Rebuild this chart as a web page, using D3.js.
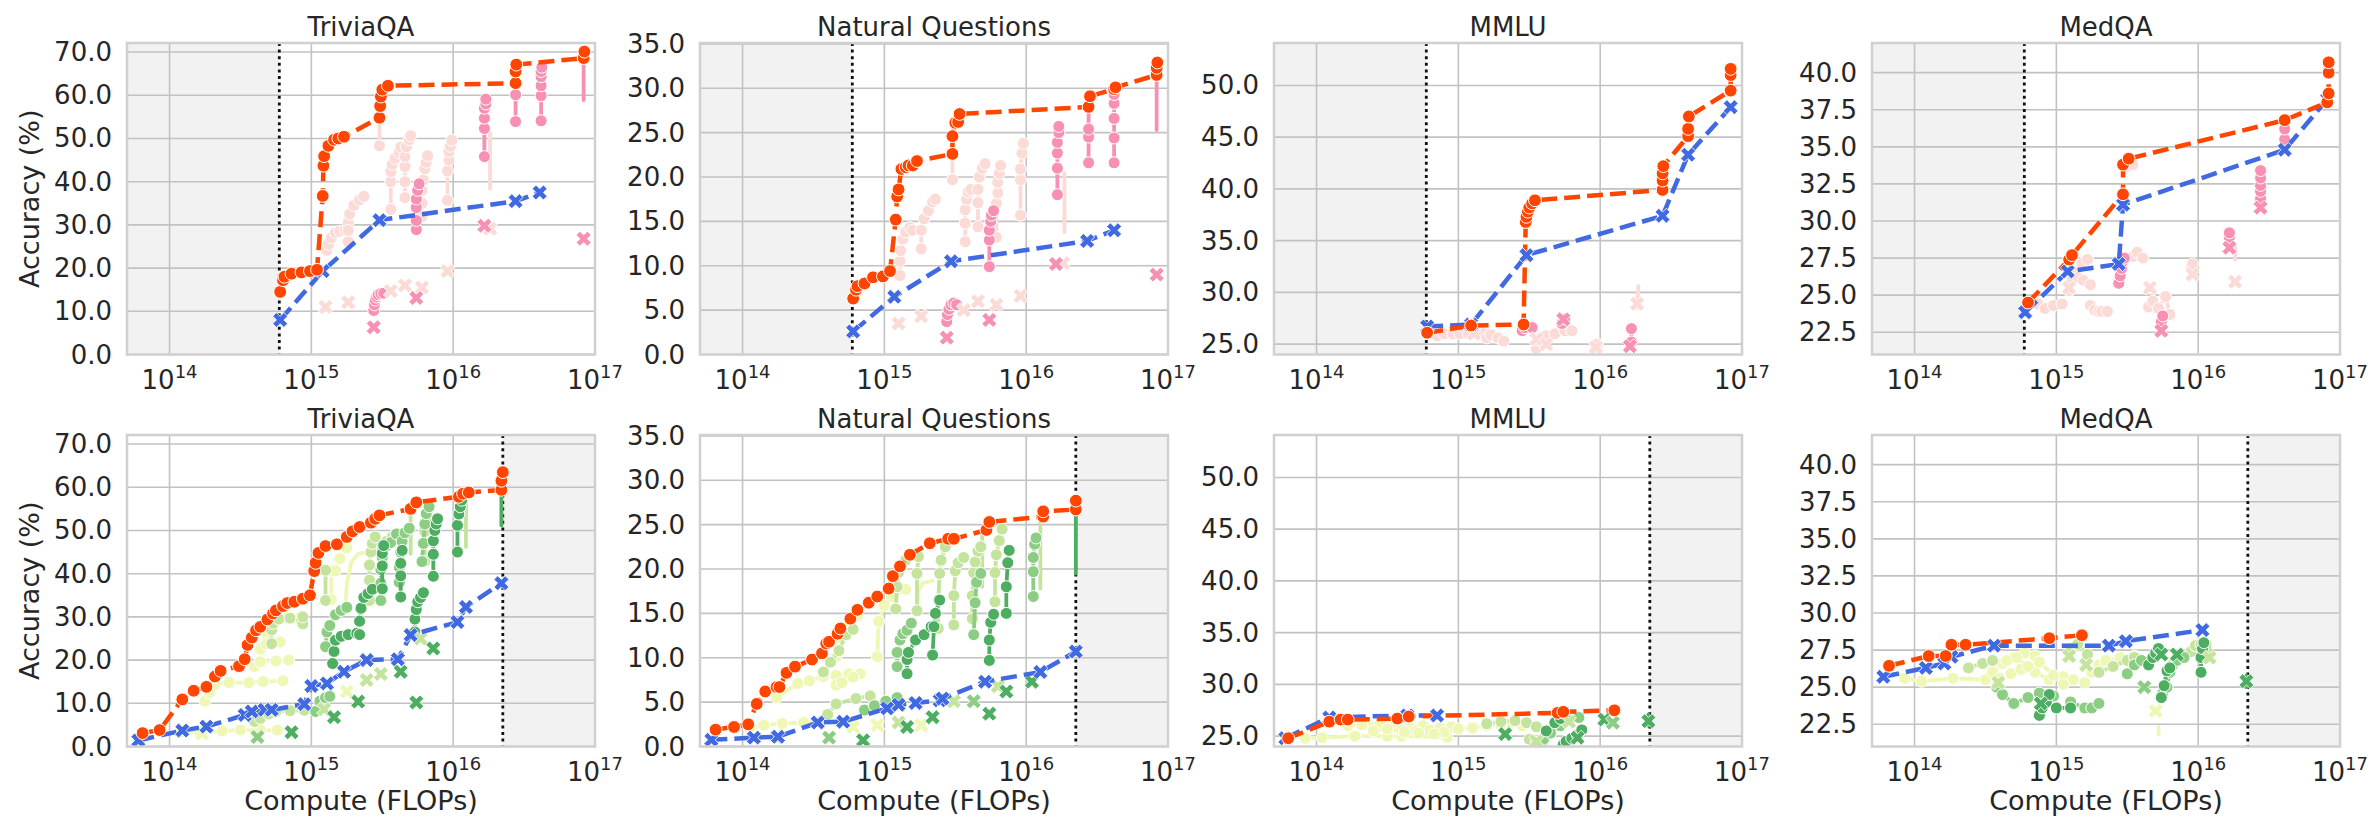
<!DOCTYPE html>
<html>
<head>
<meta charset="utf-8">
<script src="https://cdn.jsdelivr.net/npm/d3@7"></script>
<style>
  body { margin: 0; background: #fff; }
  svg { display: block; }
  text { font-family: "DejaVu Sans", sans-serif; fill: #262626; }
</style>
</head>
<body>
<svg id="chart" width="2376" height="818"></svg>
<script>
// ---------------------------------------------------------------------------
// Data. Compute is stored as log10(FLOPs); accuracy in percent.
// Family groups: [familyIndex, [[logFlops, acc], ...]]
// Crosses: [familyIndex, logFlops, acc]
// ---------------------------------------------------------------------------

const benchmarks = ["TriviaQA", "Natural Questions", "MMLU", "MedQA"];
const xTickExps = [14, 15, 16, 17];
const cutoffTop = 14.774;     // left shaded band ends here (top row)
const cutoffBottom = 16.35;   // right shaded band starts here (bottom row)

const triviaYDomain = [0, 72.1];
const nqYDomain = [0, 35.1];
const mmluYDomain = [24, 54.1];
const medqaYDomain = [21, 42];
const triviaYTicks = [0, 10, 20, 30, 40, 50, 60, 70];
const nqYTicks = [0, 5, 10, 15, 20, 25, 30, 35];
const mmluYTicks = [25, 30, 35, 40, 45, 50];
const medqaYTicks = [22.5, 25, 27.5, 30, 32.5, 35, 37.5, 40];

// ----- TriviaQA, top row -----
const triviaTopFrontier = [[14.78,14.5],[14.80,17.2],[14.81,18.0],[14.86,18.7],[14.93,19.0],[14.99,19.3],[15.04,19.6],[15.08,36.7],[15.085,43.7],[15.09,45.9],[15.12,48.3],[15.16,49.7],[15.19,50.0],[15.23,50.4],[15.48,54.8],[15.485,57.5],[15.49,59.7],[15.50,61.3],[15.54,62.2],[16.44,62.8],[16.44,65.5],[16.445,67.1],[16.92,68.6],[16.925,70.1]];
const triviaTopBaseline = [[14.78,8.0],[15.08,19.3],[15.48,31.1],[16.44,35.5],[16.61,37.5]];
const triviaTopFamilies = [
  [0, [[15.11,24.1],[15.12,25.5],[15.14,27.0],[15.17,28.2],[15.20,28.5],[15.24,28.7],[15.26,30.5],[15.27,32.5],[15.30,34.5],[15.34,35.8],[15.37,36.6]]],
  [0, [[15.26,26.1],[15.26,28.7]]],
  [0, [[15.48,48.3],[15.48,54.8]]],
  [0, [[15.56,33.6],[15.56,40.0],[15.56,42.3],[15.57,44.0],[15.59,45.4],[15.62,46.7],[15.63,48.0]]],
  [0, [[15.66,36.3],[15.66,40.0],[15.66,43.5],[15.66,45.8],[15.67,48.1],[15.69,49.7],[15.70,50.6]]],
  [0, [[15.78,31.9],[15.78,35.0],[15.78,38.0],[15.79,40.4],[15.80,43.0],[15.81,44.5],[15.82,46.0]]],
  [0, [[15.96,35.7],[15.96,42.5],[15.97,45.0],[15.97,47.0],[15.98,48.2],[15.99,49.6]]],
  [1, [[15.44,10.2],[15.445,11.5],[15.45,12.6],[15.46,13.3],[15.47,13.8],[15.49,14.1],[15.51,14.2]]],
  [1, [[15.74,28.9],[15.74,31.0],[15.74,34.0],[15.74,36.0],[15.75,38.0],[15.76,39.5]]],
  [1, [[16.22,45.8],[16.22,52.3],[16.22,54.7],[16.22,57.0],[16.23,58.0],[16.23,59.1]]],
  [1, [[16.44,53.9],[16.44,60.1],[16.44,62.8]]],
  [1, [[16.62,54.1],[16.62,59.9],[16.62,62.2],[16.62,64.3],[16.62,65.5],[16.625,66.5]]]
];
const triviaTopSpans = [
  [0, [[16.26,38.4],[16.26,51.2]]],
  [1, [[16.92,58.9],[16.92,68.6]]]
];
const triviaTopCrosses = [[0,15.10,11.0],[0,15.26,12.1],[0,15.56,14.7],[0,15.66,16.0],[0,15.78,15.5],[0,15.96,19.3],[0,16.26,29.1],[1,15.44,6.3],[1,15.74,13.1],[1,16.22,29.8],[1,16.92,26.8]];

// ----- Natural Questions, top row -----
const nqTopFrontier = [[14.78,6.3],[14.80,7.3],[14.81,7.7],[14.86,8.0],[14.92,8.7],[14.99,8.8],[15.04,9.4],[15.08,15.2],[15.09,17.8],[15.10,18.6],[15.12,20.9],[15.15,21.1],[15.17,21.3],[15.20,21.3],[15.23,21.8],[15.48,22.6],[15.48,24.6],[15.50,26.1],[15.52,26.2],[15.53,27.1],[16.44,27.9],[16.45,29.1],[16.62,29.9],[16.63,30.1],[16.92,31.5],[16.92,32.3],[16.925,32.9]];
const nqTopBaseline = [[14.78,2.6],[15.07,6.5],[15.47,10.5],[16.43,12.8],[16.62,14.0]];
const nqTopFamilies = [
  [0, [[15.11,8.9],[15.11,10.5],[15.115,11.7],[15.13,13.0],[15.15,13.8],[15.18,14.3],[15.20,14.0]]],
  [0, [[15.26,11.9],[15.26,14.0],[15.28,15.3],[15.31,16.2],[15.34,17.2],[15.36,17.5]]],
  [0, [[15.48,19.7],[15.48,22.6]]],
  [0, [[15.57,12.7],[15.57,14.8],[15.57,16.3],[15.58,17.5],[15.59,18.3],[15.61,18.6]]],
  [0, [[15.66,14.4],[15.66,17.1],[15.66,18.6],[15.67,20.0],[15.69,21.0],[15.71,21.5]]],
  [0, [[15.79,13.2],[15.79,17.0],[15.80,18.2],[15.80,19.4],[15.81,20.4],[15.82,21.3]]],
  [0, [[15.96,15.7],[15.96,19.7],[15.96,20.9],[15.97,22.7],[15.98,23.8]]],
  [1, [[15.44,3.7],[15.445,4.5],[15.455,5.1],[15.47,5.6],[15.49,5.8],[15.51,5.6]]],
  [1, [[15.74,9.9],[15.74,12.9],[15.74,14.0],[15.75,15.0],[15.755,15.7],[15.77,16.2]]],
  [1, [[16.22,18.0],[16.22,21.0],[16.22,22.7],[16.22,23.9],[16.23,25.0],[16.23,25.7]]],
  [1, [[16.44,21.6],[16.44,24.5],[16.44,25.4],[16.44,27.9]]],
  [1, [[16.62,21.6],[16.62,24.4],[16.62,26.6],[16.62,28.3],[16.62,29.3]]]
];
const nqTopSpans = [
  [0, [[16.27,13.8],[16.27,20.4]]],
  [1, [[16.92,25.3],[16.92,31.5]]]
];
const nqTopCrosses = [[0,15.10,3.5],[0,15.26,4.3],[0,15.56,5.0],[0,15.66,6.0],[0,15.79,5.6],[0,15.96,6.6],[0,16.26,10.3],[1,15.44,1.9],[1,15.74,3.9],[1,16.21,10.2],[1,16.92,9.0]];

// ----- MMLU, top row -----
const mmluTopFrontier = [[14.78,26.1],[15.09,26.8],[15.46,26.9],[15.475,36.8],[15.48,37.3],[15.49,37.8],[15.50,38.2],[15.52,38.6],[15.54,38.9],[16.44,39.9],[16.44,40.8],[16.44,41.5],[16.445,42.2],[16.62,45.1],[16.62,45.8],[16.625,47.0],[16.92,49.5],[16.92,51.0],[16.92,51.6]];
const mmluTopBaseline = [[14.78,26.7],[15.09,26.9],[15.48,33.6],[16.44,37.4],[16.62,43.3],[16.92,47.9]];
const mmluTopFamilies = [
  [0, [[14.85,25.8],[14.90,26.0],[14.96,26.0],[15.01,26.0],[15.07,26.0],[15.12,26.1],[15.17,26.0],[15.20,25.6],[15.23,25.9],[15.28,25.6],[15.32,25.3]]],
  [0, [[15.55,24.6],[15.56,25.4],[15.62,25.8],[15.68,26.0],[15.75,26.3],[15.80,26.3]]],
  [0, [[15.97,24.7],[15.98,25.0]]],
  [1, [[15.45,26.3],[15.47,26.6],[15.52,26.6]]],
  [1, [[15.73,27.0],[15.75,27.4]]],
  [1, [[16.22,25.2],[16.22,26.5]]]
];
const mmluTopSpans = [
  [0, [[16.26,28.5],[16.27,30.6]]]
];
const mmluTopCrosses = [[0,15.11,26.0],[0,15.55,25.5],[0,15.62,25.0],[0,15.97,24.7],[0,16.26,28.9],[1,15.74,27.4],[1,16.21,24.8]];

// ----- MedQA, top row -----
const medqaTopFrontier = [[14.80,24.5],[15.09,27.4],[15.11,27.7],[15.47,31.8],[15.47,33.8],[15.51,34.2],[16.61,36.8],[16.91,38.0],[16.92,38.6],[16.92,40.0],[16.92,40.7]];
const medqaTopBaseline = [[14.78,23.85],[15.08,26.6],[15.44,27.1],[15.47,31.1],[16.61,34.8],[16.91,38.2]];
const medqaTopFamilies = [
  [0, [[15.09,25.3],[15.11,26.0],[15.14,26.6],[15.18,27.1],[15.22,27.4]]],
  [0, [[15.15,26.2],[15.19,26.0],[15.24,25.7]]],
  [0, [[14.87,24.4],[14.92,24.1],[14.98,24.3],[15.04,24.4]]],
  [0, [[15.24,24.3],[15.27,24.0],[15.30,23.9],[15.32,23.9],[15.36,23.9]]],
  [0, [[15.50,33.7],[15.54,33.8]]],
  [0, [[15.54,27.6],[15.57,27.9],[15.61,27.5]]],
  [0, [[15.65,24.2],[15.68,24.6],[15.72,24.1],[15.77,24.9],[15.80,23.7]]],
  [0, [[15.95,26.9],[15.96,27.1]]],
  [1, [[15.44,25.8],[15.45,26.3],[15.46,26.8],[15.47,27.3],[15.48,27.5]]],
  [1, [[15.74,23.2],[15.75,23.6]]],
  [1, [[16.22,28.9],[16.22,29.2]]],
  [1, [[16.44,31.5],[16.44,32.0],[16.44,32.4],[16.44,32.9],[16.44,33.4]]],
  [1, [[16.61,35.5],[16.61,36.2]]]
];
const medqaTopSpans = [
  [0, [[16.26,27.4],[16.26,28.3]]]
];
const medqaTopCrosses = [[0,15.09,25.5],[0,15.66,25.5],[0,15.96,26.4],[0,16.26,25.9],[1,15.74,22.6],[1,16.22,28.2],[1,16.44,30.9]];

// ----- TriviaQA, bottom row -----
const triviaBottomFrontier = [[13.81,3.1],[13.93,3.8],[14.09,10.9],[14.17,12.9],[14.26,13.8],[14.32,16.2],[14.36,17.5],[14.49,18.6],[14.53,20.2],[14.55,23.5],[14.58,25.2],[14.61,26.9],[14.64,27.7],[14.69,29.4],[14.73,30.8],[14.75,31.5],[14.80,32.5],[14.83,33.2],[14.88,33.5],[14.94,34.2],[14.99,35.0],[15.02,40.6],[15.03,42.5],[15.05,44.8],[15.10,46.4],[15.18,46.8],[15.25,48.5],[15.29,49.8],[15.34,50.8],[15.42,51.8],[15.45,52.7],[15.48,53.5],[15.70,55.0],[15.74,56.5],[16.04,57.8],[16.07,58.5],[16.11,58.8],[16.34,59.4],[16.34,61.5],[16.35,63.5]];
const triviaBottomBaseline = [[13.78,1.4],[14.09,3.7],[14.26,4.6],[14.53,7.3],[14.58,8.1],[14.67,8.5],[14.72,8.5],[14.95,9.8],[15.00,14.0],[15.11,14.6],[15.23,17.3],[15.39,20.0],[15.61,20.2],[15.70,25.8],[16.03,28.8],[16.09,32.3],[16.34,37.8]];
const triviaBottomFamilies = [
  [0, [[14.07,3.2],[14.21,3.5],[14.37,3.6],[14.50,3.8],[14.64,3.8],[14.76,3.8]]],
  [0, [[14.25,10.5],[14.28,12.5],[14.32,14.3],[14.42,14.8],[14.56,14.8],[14.66,15.0],[14.80,15.2]]],
  [0, [[14.60,18.5],[14.64,19.6],[14.75,19.8],[14.84,20.0]]],
  [0, [[14.69,26.0],[14.72,28.0],[14.78,29.5],[14.84,30.0],[14.93,30.2]]],
  [0, [[14.64,22.5],[14.68,23.8],[14.78,24.2]]],
  [0, [[15.14,34.0],[15.14,40.7],[15.17,40.7],[15.20,43.5],[15.25,46.0]]],
  [1, [[14.60,5.8],[14.64,6.5],[14.70,7.5],[14.75,8.1],[14.85,8.3],[14.95,8.4]]],
  [1, [[14.72,23.8],[14.72,27.0],[14.73,28.5],[14.77,29.5],[14.85,29.7],[14.93,29.1]]],
  [1, [[14.94,28.4],[14.94,30.0]]],
  [1, [[15.10,33.8],[15.10,40.8]]],
  [1, [[15.41,33.8],[15.41,38.5],[15.41,42.0],[15.42,45.0],[15.43,47.0],[15.45,48.5]]],
  [1, [[15.50,46.0],[15.53,47.5],[15.57,48.5],[15.62,49.2]]],
  [1, [[15.80,42.9],[15.80,49.8],[15.81,52.0],[15.82,54.5],[15.83,56.0]]],
  [2, [[15.03,8.1],[15.06,10.5],[15.10,11.3],[15.13,11.6]]],
  [2, [[15.10,23.1],[15.11,26.5],[15.13,28.0],[15.17,30.5],[15.21,31.5],[15.25,32.2]]],
  [2, [[15.49,33.8],[15.49,37.8],[15.49,40.9],[15.50,43.8],[15.53,46.5],[15.56,47.2],[15.60,49.2]]],
  [2, [[15.62,38.0],[15.62,41.5],[15.63,45.0],[15.64,47.5],[15.66,49.5],[15.69,50.5]]],
  [2, [[15.78,42.8],[15.79,47.0],[15.80,51.5],[15.81,53.9],[15.83,55.5]]],
  [3, [[15.15,19.2],[15.16,22.0],[15.17,24.6],[15.21,25.5],[15.26,25.9],[15.32,26.2],[15.34,25.9]]],
  [3, [[15.34,29.0],[15.35,32.0],[15.37,34.5],[15.40,35.4],[15.43,36.4]]],
  [3, [[15.50,36.5],[15.50,41.8],[15.50,44.7],[15.51,46.5]]],
  [3, [[15.63,34.6],[15.63,39.5],[15.63,42.4],[15.64,45.4]]],
  [3, [[15.73,26.5],[15.73,29.5],[15.74,31.7],[15.75,33.5],[15.77,34.5],[15.79,35.6]]],
  [3, [[15.86,39.4],[15.86,44.5],[15.86,47.6],[15.87,50.0],[15.88,51.5],[15.89,52.7]]],
  [3, [[16.03,45.0],[16.03,51.2],[16.04,53.8],[16.05,55.5],[16.06,57.0]]]
];
const triviaBottomSpans = [
  [0, [[15.24,32.0],[15.25,37.5],[15.28,42.5],[15.33,44.6],[15.40,45.0]]],
  [1, [[15.70,44.6],[15.70,53.5]]],
  [1, [[16.09,46.2],[16.09,56.5]]],
  [3, [[16.34,51.2],[16.34,59.4]]]
];
const triviaBottomCrosses = [[0,14.23,3.0],[2,14.62,2.2],[3,14.86,3.3],[1,15.09,8.6],[3,15.16,6.8],[0,15.25,12.7],[3,15.33,10.4],[1,15.39,15.4],[1,15.49,16.8],[3,15.63,17.3],[3,15.74,10.2],[1,15.77,25.0],[3,15.86,22.7]];

// ----- Natural Questions, bottom row -----
const nqBottomFrontier = [[13.81,1.9],[13.94,2.2],[14.04,2.5],[14.10,4.8],[14.16,6.2],[14.24,6.7],[14.26,6.7],[14.31,8.3],[14.37,9.0],[14.49,9.8],[14.56,10.5],[14.59,11.6],[14.61,11.8],[14.67,12.7],[14.69,13.3],[14.76,14.4],[14.81,15.4],[14.89,16.2],[14.95,16.9],[15.03,17.8],[15.06,19.2],[15.11,20.3],[15.18,21.6],[15.32,22.9],[15.45,23.4],[15.49,23.4],[15.72,24.4],[15.74,25.3],[16.12,25.9],[16.12,26.5],[16.35,26.7],[16.35,27.7]];
const nqBottomBaseline = [[13.78,0.75],[14.08,1.0],[14.25,1.1],[14.53,2.7],[14.71,2.8],[15.02,4.3],[15.10,4.7],[15.22,4.9],[15.39,5.2],[15.41,5.4],[15.71,7.3],[16.10,8.4],[16.35,10.7]];
const nqBottomFamilies = [
  [0, [[14.05,2.1],[14.15,2.4],[14.28,2.6],[14.43,2.7],[14.54,2.8]]],
  [0, [[14.24,5.5],[14.39,7.1],[14.47,7.4],[14.57,7.9],[14.66,8.0],[14.75,8.2],[14.83,8.2]]],
  [0, [[14.66,6.9],[14.70,7.2],[14.78,7.8]]],
  [0, [[14.66,10.1],[14.67,12.3],[14.69,13.5],[14.75,14.2],[14.81,14.7]]],
  [0, [[14.95,10.1],[14.96,14.1],[15.00,15.9],[15.05,16.9],[15.15,17.7]]],
  [1, [[14.57,8.4],[14.62,9.5],[14.68,10.8],[14.73,12.6],[14.78,13.2]]],
  [1, [[14.60,3.6],[14.66,4.8],[14.80,5.4],[14.90,5.7]]],
  [1, [[15.08,15.5],[15.09,18.0],[15.10,19.6],[15.12,20.3],[15.15,21.0]]],
  [1, [[15.23,15.3],[15.23,19.5],[15.24,21.4]]],
  [1, [[15.38,13.3],[15.38,16.5],[15.39,19.5],[15.40,21.0],[15.43,22.5]]],
  [1, [[15.49,13.7],[15.49,17.0],[15.50,19.8],[15.52,20.7],[15.56,21.3]]],
  [1, [[15.62,14.4],[15.62,17.0],[15.63,19.6],[15.64,20.8],[15.66,22.0],[15.68,22.5]]],
  [1, [[15.78,16.3],[15.78,19.6],[15.79,21.6],[15.81,23.2],[15.83,24.5]]],
  [2, [[15.09,9.0],[15.09,10.6],[15.11,12.0],[15.13,12.7],[15.16,13.1],[15.19,13.9]]],
  [2, [[14.86,4.1],[14.93,4.6],[15.01,5.1],[15.09,5.5]]],
  [2, [[15.63,12.6],[15.64,16.2],[15.65,18.5],[15.68,19.5]]],
  [2, [[16.05,16.9],[16.05,19.7],[16.05,21.3],[16.06,22.8],[16.07,23.5]]],
  [3, [[15.16,8.2],[15.16,9.8],[15.17,10.6],[15.22,12.0],[15.28,12.6],[15.33,13.5]]],
  [3, [[15.34,10.3],[15.35,13.5],[15.36,15.0],[15.39,16.5]]],
  [3, [[15.74,9.7],[15.74,12.0],[15.75,14.0],[15.77,14.9]]],
  [3, [[15.86,15.0],[15.86,18.0],[15.87,20.7],[15.88,22.1]]]
];
const nqBottomSpans = [
  [0, [[15.23,15.0],[15.24,17.5],[15.27,18.4],[15.34,18.7]]],
  [1, [[15.69,18.0],[15.69,24.4]]],
  [1, [[16.10,17.8],[16.10,25.5]]],
  [3, [[16.35,19.5],[16.35,26.7]]]
];
const nqBottomCrosses = [[1,14.24,1.1],[2,14.61,1.0],[0,14.78,2.2],[3,14.85,0.7],[0,14.95,2.4],[1,15.10,2.7],[3,15.16,2.2],[0,15.26,2.4],[3,15.34,3.3],[1,15.49,5.1],[2,15.63,5.1],[3,15.74,3.7],[1,15.80,6.8],[3,15.86,6.2],[3,16.04,7.3]];

// ----- MMLU, bottom row -----
const mmluBottomFrontier = [[13.80,24.8],[14.09,26.4],[14.17,26.6],[14.22,26.6],[14.57,26.7],[14.65,26.9],[15.70,27.25],[15.74,27.35],[16.10,27.5]];
const mmluBottomBaseline = [[13.78,24.8],[14.09,26.8],[14.64,27.0],[14.85,27.0]];
const mmluBottomFamilies = [
  [0, [[13.92,24.8],[14.04,24.85],[14.27,25.0],[14.50,25.0],[14.60,25.0],[14.92,24.9]]],
  [0, [[14.22,26.0],[14.32,26.1],[14.45,26.2],[14.55,26.0],[14.65,25.9],[14.75,26.0],[14.87,25.8],[14.95,25.9]]],
  [0, [[14.60,25.6],[14.70,25.5],[14.80,25.6],[14.90,25.4],[15.00,25.7],[15.10,25.8],[15.20,26.0],[15.30,26.1],[15.45,26.0]]],
  [0, [[14.40,25.5],[14.50,25.7],[14.62,25.4],[14.72,25.3],[14.83,25.2]]],
  [1, [[15.20,26.2],[15.30,26.4],[15.40,26.5],[15.48,26.3],[15.55,25.9]]],
  [1, [[15.50,24.7],[15.55,24.4],[15.60,24.5]]],
  [2, [[15.60,24.7],[15.65,25.3],[15.72,26.0],[15.78,26.5],[15.85,26.8]]],
  [3, [[15.62,25.5],[15.68,26.3],[15.72,26.7]]],
  [3, [[15.74,24.2],[15.76,24.5],[15.80,24.8],[15.84,25.1],[15.87,25.6]]]
];
const mmluBottomSpans = [
  [3, [[16.34,26.0],[16.34,27.1]]]
];
const mmluBottomCrosses = [[3,15.33,25.2],[1,15.78,26.4],[3,15.84,24.85],[3,16.03,26.6],[2,16.09,26.3],[3,16.34,26.45],[1,15.55,24.5]];

// ----- MedQA, bottom row -----
const medqaBottomFrontier = [[13.82,26.44],[14.10,27.1],[14.22,27.1],[14.26,27.86],[14.36,27.86],[14.95,28.3],[15.18,28.5]];
const medqaBottomBaseline = [[13.78,25.7],[14.08,26.3],[14.21,26.6],[14.26,27.05],[14.56,27.8],[15.37,27.8],[15.49,28.1],[16.03,28.85]];
const medqaBottomFamilies = [
  [0, [[13.93,25.6],[14.05,25.4],[14.27,25.6],[14.50,25.5]]],
  [0, [[14.55,26.0],[14.62,26.6],[14.70,27.0],[14.78,27.3],[14.85,27.1]]],
  [0, [[14.60,25.6],[14.68,25.9],[14.75,26.2],[14.85,26.0],[14.95,25.5],[15.05,25.7],[15.12,25.5]]],
  [0, [[14.65,26.8],[14.72,27.0],[14.80,26.4],[14.88,26.7],[14.98,25.8],[15.05,25.2]]],
  [0, [[15.20,25.3],[15.25,26.0],[15.30,26.5],[15.35,26.8],[15.45,27.0],[15.55,27.1]]],
  [1, [[14.38,26.3],[14.48,26.6],[14.55,26.8]]],
  [1, [[15.10,27.6],[15.15,27.9],[15.22,27.2]]],
  [1, [[15.30,26.0],[15.40,26.4],[15.50,26.8],[15.55,27.0]]],
  [1, [[15.95,27.4],[15.98,27.8],[16.02,27.9]]],
  [2, [[14.58,25.0],[14.62,24.5],[14.70,23.9],[14.80,24.3],[14.88,24.6],[14.98,24.4]]],
  [2, [[15.10,24.0],[15.20,23.6],[15.25,23.6],[15.30,23.9]]],
  [2, [[15.50,25.9],[15.55,26.5],[15.60,26.8]]],
  [2, [[15.75,24.6],[15.78,25.0],[15.80,26.0],[15.82,26.5],[15.85,26.8],[15.90,27.0]]],
  [3, [[14.88,23.1],[14.90,23.6],[14.93,24.0],[14.95,24.5]]],
  [3, [[15.00,23.6],[15.10,23.6]]],
  [3, [[15.65,26.5],[15.68,27.0],[15.70,27.3],[15.72,27.6]]],
  [3, [[15.74,24.3],[15.76,25.1],[15.78,26.1],[15.80,26.3]]],
  [3, [[16.02,26.0],[16.02,27.0],[16.03,27.6],[16.04,28.0]]]
];
const medqaBottomSpans = [
  [0, [[15.72,21.8],[15.72,22.3]]],
  [1, [[16.08,26.8],[16.08,28.0]]],
  [3, [[16.34,25.0],[16.34,25.8]]]
];
const medqaBottomCrosses = [[1,14.59,25.3],[3,14.89,23.9],[1,15.09,27.1],[1,15.21,26.5],[2,15.62,25.0],[0,15.70,23.4],[3,15.74,27.2],[3,15.85,27.2],[1,16.08,27.0],[3,16.34,25.4]];

// ---------------------------------------------------------------------------
// Layout and styling
// ---------------------------------------------------------------------------
const colLeft = [127, 700, 1274, 1872];
const panelW = 468;
const rowTop = [43, 435];
const rowBottom = [354.5, 746.5];

const ORANGE = "#ff4500";
const BLUE = "#4169e1";
const pinkScale = d3.scaleOrdinal().domain([0, 1]).range(["#fcdad6", "#f790b2"]);
const greenScale = d3.scaleOrdinal().domain([0, 1, 2, 3]).range(["#eef7b3", "#c4e49d", "#8ccd84", "#4dad60"]);

const panels = [
  { row: 0, col: 0, y: triviaYDomain, ticks: triviaYTicks, fam: triviaTopFamilies, spans: triviaTopSpans, crosses: triviaTopCrosses, front: triviaTopFrontier, base: triviaTopBaseline, color: pinkScale },
  { row: 0, col: 1, y: nqYDomain, ticks: nqYTicks, fam: nqTopFamilies, spans: nqTopSpans, crosses: nqTopCrosses, front: nqTopFrontier, base: nqTopBaseline, color: pinkScale },
  { row: 0, col: 2, y: mmluYDomain, ticks: mmluYTicks, fam: mmluTopFamilies, spans: mmluTopSpans, crosses: mmluTopCrosses, front: mmluTopFrontier, base: mmluTopBaseline, color: pinkScale },
  { row: 0, col: 3, y: medqaYDomain, ticks: medqaYTicks, fam: medqaTopFamilies, spans: medqaTopSpans, crosses: medqaTopCrosses, front: medqaTopFrontier, base: medqaTopBaseline, color: pinkScale },
  { row: 1, col: 0, y: triviaYDomain, ticks: triviaYTicks, fam: triviaBottomFamilies, spans: triviaBottomSpans, crosses: triviaBottomCrosses, front: triviaBottomFrontier, base: triviaBottomBaseline, color: greenScale },
  { row: 1, col: 1, y: nqYDomain, ticks: nqYTicks, fam: nqBottomFamilies, spans: nqBottomSpans, crosses: nqBottomCrosses, front: nqBottomFrontier, base: nqBottomBaseline, color: greenScale },
  { row: 1, col: 2, y: mmluYDomain, ticks: mmluYTicks, fam: mmluBottomFamilies, spans: mmluBottomSpans, crosses: mmluBottomCrosses, front: mmluBottomFrontier, base: mmluBottomBaseline, color: greenScale },
  { row: 1, col: 3, y: medqaYDomain, ticks: medqaYTicks, fam: medqaBottomFamilies, spans: medqaBottomSpans, crosses: medqaBottomCrosses, front: medqaBottomFrontier, base: medqaBottomBaseline, color: greenScale }
];

const svg = d3.select("#chart");
const defs = svg.append("defs");
const xMarker = d3.symbol().type(d3.symbolCross).size(140);
const GROUP_R = 6;
const FRONT_R = 6.4;

panels.forEach((p, i) => {
  const left = colLeft[p.col], right = left + panelW;
  const top = rowTop[p.row], bottom = rowBottom[p.row];
  const x = d3.scaleLinear().domain([13.7, 17]).range([left, right]);
  const y = d3.scaleLinear().domain(p.y).range([bottom, top]);

  defs.append("clipPath").attr("id", "clip" + i)
    .append("rect").attr("x", left).attr("y", top)
    .attr("width", right - left).attr("height", bottom - top);

  const g = svg.append("g");

  // shaded band beyond the cut-off
  const cut = p.row === 0 ? cutoffTop : cutoffBottom;
  const shadeX0 = p.row === 0 ? x.domain()[0] : cut;
  const shadeX1 = p.row === 0 ? cut : x.domain()[1];
  g.append("rect").attr("x", x(shadeX0)).attr("y", top)
    .attr("width", x(shadeX1) - x(shadeX0)).attr("height", bottom - top)
    .attr("fill", "#f2f2f2");

  // grid
  const grid = g.append("g").attr("stroke", "#c2c2c2").attr("stroke-width", 1.6);
  grid.selectAll("line.h").data(p.ticks).join("line")
    .attr("x1", left).attr("x2", right)
    .attr("y1", d => y(d)).attr("y2", d => y(d));
  grid.selectAll("line.v").data(xTickExps.slice(0, 3)).join("line")
    .attr("y1", top).attr("y2", bottom)
    .attr("x1", d => x(d)).attr("x2", d => x(d));

  // cut-off marker
  g.append("line").attr("x1", x(cut)).attr("x2", x(cut))
    .attr("y1", top).attr("y2", bottom)
    .attr("stroke", "#111").attr("stroke-width", 2.8)
    .attr("stroke-dasharray", "3,3.6");

  const plot = g.append("g").attr("clip-path", `url(#clip${i})`);
  const line = d3.line().x(d => x(d[0])).y(d => y(d[1]));

  // model-family curves
  plot.selectAll("path.span").data(p.spans).join("path")
    .attr("d", d => line(d[1])).attr("fill", "none")
    .attr("stroke", d => p.color(d[0])).attr("stroke-width", 3.8)
    .attr("stroke-linecap", "round");
  p.fam.forEach(([f, pts]) => {
    plot.append("path").attr("d", line(pts)).attr("fill", "none")
      .attr("stroke", p.color(f)).attr("stroke-width", 3.8)
      .attr("stroke-linejoin", "round").attr("stroke-linecap", "round");
    plot.append("g").selectAll("circle").data(pts).join("circle")
      .attr("cx", d => x(d[0])).attr("cy", d => y(d[1])).attr("r", GROUP_R)
      .attr("fill", p.color(f)).attr("stroke", "#fff").attr("stroke-width", 1);
  });
  plot.selectAll("path.cross").data(p.crosses).join("path")
    .attr("d", xMarker)
    .attr("transform", d => `translate(${x(d[1])},${y(d[2])}) rotate(45)`)
    .attr("fill", d => p.color(d[0])).attr("stroke", "#fff").attr("stroke-width", 0.8);

  // baseline (blue) and frontier (orange)
  plot.append("path").attr("d", line(p.base)).attr("fill", "none")
    .attr("stroke", BLUE).attr("stroke-width", 4.5).attr("stroke-dasharray", "16,7");
  plot.append("path").attr("d", line(p.front)).attr("fill", "none")
    .attr("stroke", ORANGE).attr("stroke-width", 4.5).attr("stroke-dasharray", "16,7");
  plot.append("g").selectAll("path").data(p.base).join("path")
    .attr("d", xMarker)
    .attr("transform", d => `translate(${x(d[0])},${y(d[1])}) rotate(45)`)
    .attr("fill", BLUE).attr("stroke", "#fff").attr("stroke-width", 0.8);
  plot.append("g").selectAll("circle").data(p.front).join("circle")
    .attr("cx", d => x(d[0])).attr("cy", d => y(d[1])).attr("r", FRONT_R)
    .attr("fill", ORANGE).attr("stroke", "#fff").attr("stroke-width", 1);

  // frame
  g.append("rect").attr("x", left).attr("y", top)
    .attr("width", right - left).attr("height", bottom - top)
    .attr("fill", "none").attr("stroke", "#d0d0d0").attr("stroke-width", 2.5);

  // y tick labels
  g.append("g").selectAll("text").data(p.ticks).join("text")
    .attr("x", left - 15).attr("y", d => y(d))
    .attr("text-anchor", "end").attr("dominant-baseline", "central")
    .attr("font-size", 26).text(d3.format(".1f"));

  // x tick labels (10^n)
  const xt = g.append("g").selectAll("text").data(xTickExps).join("text")
    .attr("x", d => x(d)).attr("y", bottom + 34)
    .attr("text-anchor", "middle").attr("font-size", 26);
  xt.append("tspan").text("10");
  xt.append("tspan").attr("font-size", 18).attr("dy", -11).text(d => d);

  // title
  g.append("text").attr("x", (left + right) / 2).attr("y", top - 7)
    .attr("text-anchor", "middle").attr("font-size", 26)
    .text(benchmarks[p.col]);

  if (p.col === 0) {
    g.append("text")
      .attr("transform", `translate(39,${(top + bottom) / 2}) rotate(-90)`)
      .attr("text-anchor", "middle").attr("font-size", 27)
      .text("Accuracy (%)");
  }
  if (p.row === 1) {
    g.append("text").attr("x", (left + right) / 2).attr("y", 810)
      .attr("text-anchor", "middle").attr("font-size", 27)
      .text("Compute (FLOPs)");
  }
});
</script>
</body>
</html>
